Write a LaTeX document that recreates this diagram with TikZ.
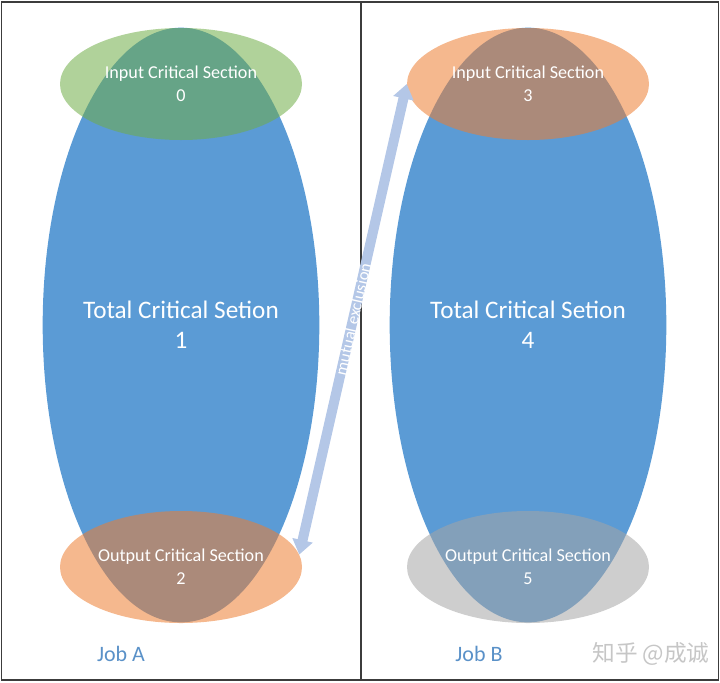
\documentclass[tikz,border=0pt]{standalone}
\usepackage{fontspec}
\setmainfont{Carlito}
\newfontfamily\cjkfont{Noto Sans CJK SC}
\usetikzlibrary{arrows.meta,shapes.geometric}
\definecolor{jobblue}{RGB}{91,155,213}
\definecolor{ingreen}{RGB}{112,173,71}
\definecolor{outorange}{RGB}{237,125,49}
\definecolor{outgray}{RGB}{165,165,165}
\definecolor{mutexblue}{RGB}{180,199,231}
\definecolor{framegray}{RGB}{60,60,60}
\definecolor{labelblue}{RGB}{90,145,200}

\begin{document}
\begin{tikzpicture}[x=0.75pt, y=-0.75pt,
  totalsec/.style={ellipse, fill=jobblue, minimum width=206pt, minimum height=446pt,
    inner sep=0pt, text=white, align=center, font=\fontsize{18.9}{22.5}\selectfont},
  critsec/.style={ellipse, fill opacity=0.55, text opacity=1, minimum width=181.5pt,
    minimum height=84pt, inner sep=0pt, text=white, align=center,
    font=\fontsize{13.6}{17.25}\selectfont},
  joblabel/.style={text=labelblue, font=\fontsize{16.5}{20}\selectfont},
  mutex/.style={draw=mutexblue, line width=7.5pt,
    {Triangle[width=15pt,length=11pt]}-{Triangle[width=15pt,length=11pt]}}]
  \useasboundingbox (0,0) rectangle (720,682);
  % frame and divider
  \draw[framegray, line width=1.1pt] (1.5,2) rectangle (718.5,680);
  \draw[framegray, line width=1.5pt] (361,2) -- (361,680);
  % Job A
  \node[totalsec] (totalA) at (181,325) {Total Critical Setion\\1};
  \node[critsec, fill=ingreen] (inA) at (181,84) {Input Critical Section\\0};
  \node[critsec, fill=outorange] (outA) at (181,567) {Output Critical Section\\2};
  \node[joblabel] (jobA) at (121,654) {Job A};
  % Job B
  \node[totalsec] (totalB) at (528,325) {Total Critical Setion\\4};
  \node[critsec, fill=outorange] (inB) at (528,84) {Input Critical Section\\3};
  \node[critsec, fill=outgray] (outB) at (528,567) {Output Critical Section\\5};
  \node[joblabel] (jobB) at (479,654) {Job B};
  % the two sections exclude each other
  \draw[mutex] (outA.6) -- node[sloped, text=white, font=\fontsize{12.5}{14}\selectfont] {mutual exclusion} (inB.west);
  \node[text=gray!45, font=\cjkfont\fontsize{17}{20}\selectfont] (mark) at (651,654) {知乎 @成诚};
\end{tikzpicture}
\end{document}
